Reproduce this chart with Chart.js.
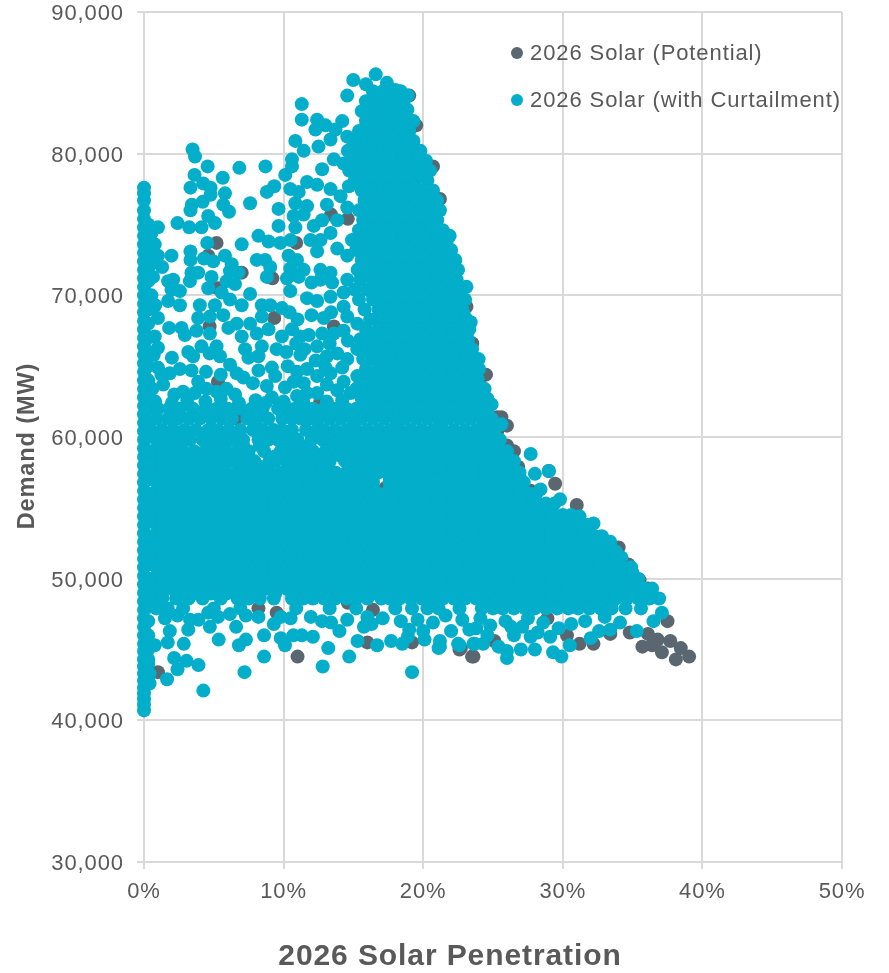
<!DOCTYPE html>
<html><head><meta charset="utf-8">
<style>html,body{margin:0;padding:0;background:#fff}canvas{display:block}</style>
<script src="https://cdn.jsdelivr.net/npm/chart.js@4"></script></head>
<body><canvas id="c" width="889" height="973"></canvas>
<script>
const seriesNames=["2026 Solar (Potential)","2026 Solar (with Curtailment)"];
const xTitle="2026 Solar Penetration", yTitle="Demand (MW)";
// demand values in thousand MW, penetration in %
const zeroColumnDemand=[40.7,41.1,41.5,41.9,42.3,42.8,43.3,43.8,44.3,44.9,45.4,46,46.6,47.2,47.8,48.4,49,49.6,50.2,50.8,51.4,52,52.6,53.2,53.8,54.4,55,55.6,56.2,56.8,57.4,58,58.6,59.2,59.8,60.4,61,61.6,62.2,62.8,63.4,64,64.6,65.2,65.8,66.4,67,67.6,68.2,68.8,69.4,70,70.6,71.2,71.8,72.4,73,73.6,74.2,74.8,75.4,76,76.7,77.2,77.6];
const nearZeroDemand=[43,44,45,46,47,48,49,50,51,52,53,54,55,56,57,58,59,60,61,62,63,64,65,66,67,68,69,70,71,72,73,74,75];
const curtailedSparse=[[3.48,80.3],[3.65,79.8],[4.56,79.1],[6.83,79],[8.7,79.1],[3.62,78.5],[5.64,78.3],[3.33,77.6],[4.24,77.9],[4.77,77.6],[5.8,77.2],[9.33,77.7],[8.8,77.3],[7.6,76.5],[9.64,76.1],[3.43,76.4],[3.33,76],[4.2,76.6],[4.77,77.1],[5.68,76.4],[6.09,75.9],[2.4,75.1],[3.24,74.8],[4.12,74.8],[4.6,75.6],[5.08,75.1],[9.64,74.9],[1,74.8],[.53,74.4],[4.53,73.7],[7,73.6],[8.2,74.2],[8.92,73.8],[9.76,73.7],[10.5,73.9],[1,72.8],[1.97,72.8],[.77,73.6],[3.33,73.1],[3.33,72.5],[4.3,72.6],[4.96,72.4],[5.8,72.8],[6.28,72.2],[8.08,72.5],[8.68,72.5],[9.04,72],[8.8,71.3],[6.16,71.7],[6.76,71.6],[3.4,71.6],[3.88,71.6],[4.84,71.3],[5.92,71],[6.52,70.8],[2.09,71.1],[1.73,71],[.65,71.3],[2.57,70.3],[1.97,70.4],[3.29,71],[4.6,70.5],[5.56,70.2],[1.73,69.6],[2.57,69.3],[.53,70],[4,69.3],[5.08,69.3],[6.16,69.7],[7.6,70.1],[7,69.3],[8.44,69.3],[9.04,69.3],[9.88,69.1],[10.43,68.8],[1,68.4],[1.8,67.7],[2.69,67.7],[3.88,68.4],[4.72,68.5],[5.68,68.6],[6.64,68],[7.6,68],[8.44,68.5],[2.93,67.2],[3.76,67.5],[4.72,67.3],[6.04,67.7],[7,67.1],[8.08,67.3],[8.92,67.6],[.77,67.1],[1,66.3],[4.12,66.4],[5.2,66.4],[3.17,66],[7.24,66.2],[8.44,66.4],[9.88,67.1],[9.5,66.2],[10.2,66],[11.2,65.8],[11.8,67.2],[11.2,67.1],[7.48,65.6],[8.2,65.7],[3.52,65.7],[5.44,65.7],[6.16,65.1],[4.44,64.6],[1,64.9],[2.57,64.8],[1.85,64.5],[1.25,64.4],[6.64,64.5],[7.12,64.2],[9.16,64.9],[9.4,64.3],[7.8,63.8],[8.8,63.6],[10.1,63.5],[3.88,63.9],[5.2,63.2],[4.48,63.4],[2.17,63],[2.8,63.2],[3.64,63.1],[5.92,63.4],[6.52,63],[1.37,63.7],[9.16,62.8],[10.84,80.9],[11.44,80.2],[10.6,79.6],[10.12,78.5],[10.6,79.1],[12.4,82.4],[13,82],[12.28,81.7],[14.2,82.3],[13.72,81.7],[14.56,84.1],[14.99,85.2],[15.9,84.9],[16.6,85.6],[17.4,85],[18,84.5],[18.9,84.1],[18.87,83.1],[11.3,83.5],[11.3,82.4],[12.5,80.5],[13.36,81],[14.56,81.2],[12.76,78.9],[13.6,79.6],[14.3,79.3],[11.68,78],[12.4,77.8],[13.36,77.5],[10.48,77.5],[11.08,77.3],[14.68,77.7],[14.08,77],[10.84,76.5],[11.68,76.3],[13.1,76.4],[11.44,75.7],[10.72,75.6],[10.84,74.8],[12.16,74.9],[12.76,75.3],[13.84,75.3],[14.56,76.2],[11.92,73.9],[13.36,74.4],[12.64,73.9],[12.4,73.1],[13.84,73.3],[14.56,72.8],[10.36,72.8],[10.96,72.5],[11.44,71.8],[10.48,71.9],[12.64,71.8],[13.36,71.6],[10.24,71.2],[11.08,71.3],[12.64,71.1],[12,70.9],[13.48,70.9],[10.48,70.3],[14.56,71.1],[11.68,69.8],[12.4,69.6],[13.36,69.9],[14.3,70.2],[14.3,69.2],[14.56,68.5],[12.88,68.4],[13.6,67.3],[12.76,67.3],[14.3,67.5],[15.28,68],[12.4,66.4],[13.1,65.7],[13.84,65.9],[14.56,65.5],[15.28,66.2],[11.68,64.8],[10.96,64.6],[12.4,64.3],[13.36,64.5],[14.3,63.9],[15.28,64.3],[10.72,63.9],[11.44,63.8],[13.1,63.7],[13.84,63.3],[12.4,63.1],[14.8,63.1],[10.96,62.9],[11.68,63.1],[4.25,42.1],[7.2,43.4],[19.2,43.4],[12.8,43.8],[14.7,44.5],[8.6,44.5],[13.2,45.1],[1.65,42.9],[2.4,43.6],[3.9,43.9],[3.05,44.2],[2.16,44.4],[2.85,45.4],[5.35,45.7],[6.8,45.3],[7.3,45.7],[8.6,46],[9.8,45.8],[10.1,45.3],[12.1,45.9],[15.3,45.6],[16.7,45.3],[17.7,45.6],[18.5,45.4],[18.9,45.9],[20.1,45.7],[21.2,45.2],[22.6,45.3],[23.7,45.4],[1.7,45.5],[.77,45.3],[1.85,46.3],[.3,44.3],[.4,43.3],[.4,42.6],[3.17,46.4],[4.72,46.6],[6.16,47.5],[6.6,46.6],[8.2,47.3],[9.3,46.8],[9.8,47.3],[10.7,46],[11.3,46],[11.95,47.3],[14,46.3],[14.56,47.1],[15.75,46.6],[22,46.3],[3.3,47.1],[3.9,47.1],[4.6,47.6],[23.3,46.4],[12.75,47],[13.4,46.9],[26,44.4],[26,44.9],[29.9,44.5],[29.3,44.8],[28,45],[27,45],[30.5,45.3],[28.2,46.2],[32,45.8],[32.6,46.3],[33.4,46.4],[34.1,46.9],[35.3,46.3],[36.5,47],[37.1,47.6],[21.1,45.1],[22.5,45.4],[23.6,45.4],[24.3,45.4],[25.4,45.2],[21.2,45.6],[27.7,58.8],[28,57.4],[29,57.6],[31.2,54.4],[29.8,55.6],[32.2,53.9],[33.4,52.6],[28.4,56.3],[23.97,65.5],[25.6,60.9],[24.9,62.3],[24.7,61.2],[23.4,68.1],[22.9,68.7],[25,59.8],[27,56.8],[23.1,70.6],[21.9,74.2],[17.1,47.2],[18.4,47],[19.6,47.1],[20.7,46.9],[24.8,46.7],[25.9,47],[27.1,46.6],[28.6,46.9],[29.7,46.5],[30.6,46.8],[31.6,47],[33,47.3],[24.6,46],[26.5,46],[27.7,45.9],[29.1,45.9],[22.8,47.1],[21.6,47.4]];
const curtailedFill=[[11,68.3],[12,68.6],[13.4,68.8],[10.6,67.6],[10.3,65],[11.5,66.2],[12.3,65.4],[13.3,66.6],[14.6,66.8],[13,64.9],[14.2,64.9],[10.9,66.6],[2,62.4],[3.1,62.6],[4.4,62.5],[5.5,62.7],[6.8,62.4],[8,62.6],[8.7,62.4],[10,62.5],[11.4,62.5],[13.1,62.5],[14.2,62.6],[.7,65.8],[.6,63.4],[.8,62.5],[2,65.6],[.8,69.3],[.5,72.2],[1.3,72],[4.7,65.9],[3.4,64.7],[5.5,64.4],[8.2,64.7],[1.5,47.2],[2.4,47.4],[5.3,47.3],[7.3,47.4],[10.5,47.2],[16,47.3],[16.3,46.8],[19,46.4],[20,46.3],[23.8,46.5],[24.1,47.2],[26.3,46.6],[27.5,47.2]];
const curtailedTower=[
[84.4,[16.4,17.1,17.8,18.4]],
[83.7,[15.9,16.6,17.3,18,18.6]],
[83,[15.6,16.3,17,17.7,18.4]],
[82.3,[15.9,16.6,17.3,18,18.8,19.3]],
[81.6,[15.4,16.2,16.9,17.6,18.3,19]],
[80.9,[15,15.8,16.5,17.2,17.9,18.6,19.3]],
[80.2,[14.6,15.4,16.1,16.9,17.6,18.3,19,19.8]],
[79.5,[15,15.8,16.5,17.2,17.9,18.6,19.4,20.2]],
[78.8,[14.7,15.4,16.2,16.9,17.6,18.3,19,19.8,20.5]],
[78.1,[15.1,15.8,16.5,17.2,17.9,18.6,19.4,20.3]],
[77.4,[15.6,16.2,16.9,17.6,18.3,19,19.8,20.7]],
[76.7,[15.8,16.5,17.2,17.9,18.6,19.4,20.2,21]],
[76,[15.4,16.2,16.9,17.6,18.3,19,19.8,20.6,21.2]],
[75.3,[15.7,16.5,17.2,17.9,18.6,19.4,20.2,21]],
[74.6,[15.4,16.1,16.8,17.6,18.3,19,19.8,20.6,21.4]],
[73.9,[14.9,15.7,16.5,17.2,17.9,18.6,19.4,20.2,21,21.7]],
[73.2,[15.2,16,16.8,17.5,18.3,19,19.8,20.6,21.4,22]],
[72.5,[15.6,16.4,17.1,17.9,18.6,19.4,20.2,21,21.7,22.3]],
[71.8,[15.3,16,16.8,17.5,18.3,19,19.8,20.6,21.4,22.1,22.5]],
[71.1,[15.5,16.4,17.1,17.9,18.6,19.4,20.2,21,21.7,22.4]],
[70.4,[15.1,16,16.8,17.5,18.3,19,19.8,20.6,21.4,22.1,22.7]],
[69.7,[15.4,16.4,17.1,17.9,18.6,19.4,20.2,21,21.7,22.4,23]],
[69,[15.8,16.8,17.5,18.3,19,19.8,20.6,21.4,22.1,22.8]],
[68.3,[16.2,17.1,17.9,18.6,19.4,20.2,21,21.7,22.4,23.1]],
[67.6,[15.9,16.8,17.5,18.3,19,19.8,20.6,21.4,22.1,22.8,23.3]],
[66.9,[15.5,16.3,17.1,17.9,18.6,19.4,20.2,21,21.7,22.4,23.2]],
[66.2,[16,16.8,17.5,18.3,19,19.8,20.6,21.4,22.1,22.8,23.5]],
[65.5,[15.7,16.4,17.1,17.9,18.6,19.4,20.2,21,21.7,22.4,23.2]],
[64.8,[15.9,16.8,17.5,18.3,19,19.8,20.6,21.4,22.1,22.8,23.6,24]],
[64.1,[15.5,16.4,17.1,17.9,18.6,19.4,20.2,21,21.7,22.4,23.2,23.9]],
[63.4,[15.2,16,16.8,17.5,18.3,19,19.8,20.6,21.4,22.1,22.8,23.6,24.4]],
[62.7,[15.6,16.4,17.1,17.9,18.6,19.4,20.2,21,21.7,22.4,23.2,24,24.6]]
];
const curtailedBlock=[
[62,[1,1.8,2.6,3.5,4.4,5.2,6,6.9,7.7,8.5,9.6,10.3,10.8,11.6,12.1,12.9,13.7,14.5,15.2,16,16.8,17.6,18.3,19.1,19.9,20.7,21.4,22.2,23,23.8,24.6]],
[61.3,[.9,1.7,2.4,3.2,4,4.8,5.6,6.3,7.4,8.1,8.9,9.9,10.6,11.2,11.9,12.5,13.3,14.1,14.9,15.6,16.4,17.2,18,18.7,19.5,20.3,21.1,21.8,22.6,23.4,24.2,24.9]],
[60.5,[.5,1.3,2.1,2.9,3.7,4.6,5.3,6.1,6.9,7.8,8.5,9.3,9.9,10.6,11.6,12.4,12.9,13.7,14.5,15.2,16,16.8,17.6,18.3,19.1,19.9,20.7,21.4,22.2,23,23.8,24.5,25.1]],
[59.8,[.9,1.7,2.5,3.3,4.2,4.9,5.6,6.3,7.1,8.2,8.9,9.6,10.2,11,12,12.8,13.3,14.1,14.9,15.6,16.4,17.2,18,18.7,19.5,20.3,21.1,21.8,22.6,23.4,24.2,24.9,25.5]],
[59,[.5,1.3,2.1,2.8,3.6,4.4,5.2,5.9,6.7,7.5,8.6,9.8,10.6,11.4,12.1,13,13.7,14.5,15.2,16,16.8,17.6,18.3,19.1,19.9,20.7,21.4,22.2,23,23.8,24.5,25.3,26]],
[58.3,[.9,1.7,2.5,3.2,4,4.8,5.6,6.3,7.2,7.9,9,9.4,10.2,11,11.8,12.5,13.3,14.4,14.9,15.6,16.4,17.2,18,18.7,19.5,20.3,21.1,21.8,22.6,23.4,24.2,24.9,25.7,26.5]],
[57.5,[.5,1.3,2.1,2.8,3.6,4.4,5.2,5.9,6.7,7.5,8.3,9,9.8,10.6,11.4,12.1,12.9,13.7,14.5,15.2,16,16.8,17.6,18.3,19.1,19.9,20.7,21.4,22.2,23,23.8,24.5,25.3,26.1,26.9]],
[56.8,[.9,1.7,2.5,3.2,4,4.8,5.6,6.3,7.1,7.9,8.7,9.4,10.2,11,11.8,12.5,13.3,14.1,14.9,15.6,16.4,17.6,18,18.7,19.5,20.3,21.1,21.8,22.6,23.4,24.2,24.9,25.7,26.5,27.2]],
[56,[.5,1.3,2.1,2.8,3.6,4.4,5.2,5.9,6.7,7.5,8.3,9,9.8,10.6,11.4,12.1,12.9,13.7,14.5,15.2,16,16.8,17.6,18.3,19.1,19.9,20.7,21.4,22.2,23,23.8,24.5,25.3,26.1,26.9,27.6,28.1]],
[55.3,[.9,1.7,2.5,3.2,4,4.8,5.6,6.3,7.1,7.9,8.7,9.4,10.2,11,11.8,12.5,13.3,14.1,14.9,15.6,16.4,17.2,18,18.7,19.5,20.3,21.1,21.8,22.6,23.4,24.2,24.9,25.7,26.5,27.3,28,28.8,29.4]],
[54.5,[.5,1.3,2.1,2.8,3.6,4.4,5.2,5.9,6.7,7.5,8.3,9,9.8,10.6,11.4,12.1,12.9,13.7,14.5,15.2,16,16.8,17.6,18.3,19.1,19.9,20.7,21.4,22.2,23,23.8,24.5,25.3,26.1,26.9,27.6,28.4,29.2,30,30.6]],
[53.8,[.9,1.7,2.5,3.2,4,4.8,5.6,6.3,7.1,7.9,8.7,9.4,10.2,11,11.8,12.5,13.3,14.1,14.9,15.6,16.4,17.2,18,18.7,19.5,20.3,21.1,21.8,22.6,23.4,24.2,24.9,25.7,26.5,27.3,28,28.8,29.6,30.4,31.1,31.8]],
[53,[.5,1.3,2.1,2.8,3.6,4.4,5.2,5.9,6.7,7.5,8.3,9,9.8,10.6,11.4,12.1,12.9,13.7,14.5,15.2,16,16.8,17.6,18.3,19.1,19.9,20.7,21.4,22.2,23,23.8,24.5,25.3,26.1,26.9,27.6,28.4,29.2,30,30.7,31.5,32.3,32.8]],
[52.3,[.9,1.7,2.5,3.2,4,4.8,5.6,6.3,7.1,7.9,8.7,9.4,10.2,11,11.8,12.5,13.3,14.1,14.9,15.6,16.4,17.2,18,18.7,19.5,20.3,21.1,21.8,22.6,23.4,24.2,24.9,25.7,26.5,27.3,28,28.8,29.6,30.4,31.1,31.9,32.7,33.4]],
[51.5,[.5,1.3,2.1,2.8,3.6,4.4,5.2,5.9,6.7,7.5,8.3,9,9.8,10.6,11.4,12.1,12.9,13.7,14.5,15.2,16,16.8,17.6,18.3,19.1,19.9,20.7,21.4,22.2,23,23.8,24.5,25.3,26.1,26.9,27.6,28.4,29.2,30,30.7,31.5,32.3,33.1,33.8,34.2]],
[50.8,[.9,1.7,2.5,3.2,4,4.8,5.6,6.3,7.1,7.9,8.7,9.4,10.2,11,11.8,12.5,13.3,14.1,14.9,15.6,16.4,17.2,18,18.7,19.5,20.3,21.1,21.8,22.6,23.4,24.2,24.9,25.7,26.5,27.3,28,28.8,29.6,30.4,31.1,31.9,32.7,33.5,34.2,34.9]],
[50,[.5,1.3,2.1,2.8,3.6,4.4,5.2,5.9,6.7,7.5,8.3,9,9.8,10.6,11.4,12.1,12.9,13.7,14.5,15.2,16,16.8,17.6,18.3,19.1,19.9,20.7,21.4,22.2,23,23.8,24.5,25.3,26.1,26.9,27.6,28.4,29.2,30,30.7,31.5,32.3,33.1,33.8,34.6,35.4]],
[49.3,[.9,1.7,2.5,3.2,4,4.8,5.6,6.3,7.1,7.9,8.7,9.4,10.2,11,11.8,12.5,13.3,14.1,14.9,15.6,16.4,17.2,18,18.7,19.5,20.3,21.1,21.8,22.6,23.4,24.2,24.9,25.7,26.5,27.3,28,28.8,29.6,30.4,31.1,31.9,32.7,33.5,34.2,35,35.8,36.4]],
[48.6,[.5,1.3,2.3,3.2,4.2,5.5,6.7,7.5,8.3,9.3,10.6,11.4,12.1,12.9,13.7,14.5,15.2,16,17,17.6,18.3,19.1,19.9,20.7,21.4,22.2,23,23.8,24.5,25.3,26.1,26.9,27.6,28.4,29.2,30,30.7,31.5,32.3,33.1,33.8,34.6,35.4,36.2,36.9]],
[47.9,[.9,1.7,2.8,5,6.9,10.9,13.3,15.2,18,19.2,20.3,21.1,22.6,24.2,25,25.7,26.5,27.3,28,28.8,29.6,30.4,31.1,31.9,32.7,33.5,34.5,35.6]]
];
// extra marks inside the solid mass, where overlapping dots leave almost no white
const curtailedInterior=[
[48.95,[1.3,2.5,3.6,4.8,5.9,7.1,8.3,9.4,10.6,11.8,12.9,14.1,15.2,16.4,17.6,18.7,19.9,21.1,22.2,23.4,24.5,25.7,26.9,28,29.2,30.4,31.5,32.7,33.8,35,36.2]],
[49.65,[1.3,2.5,3.6,4.8,5.9,7.1,8.3,9.4,10.6,11.8,12.9,14.1,15.2,16.4,17.6,18.7,19.9,21.1,22.2,23.4,24.5,25.7,26.9,28,29.2,30.4,31.5,32.7,33.8,35]],
[50.4,[1.3,2.5,3.6,4.8,5.9,7.1,8.3,9.4,10.6,11.8,12.9,14.1,15.2,16.4,17.6,18.7,19.9,21.1,22.2,23.4,24.5,25.7,26.9,28,29.2,30.4,31.5,32.7,33.8,35]],
[51.15,[1.3,2.5,3.6,4.8,5.9,7.1,8.3,9.4,10.6,11.8,12.9,14.1,15.2,16.4,17.6,18.7,19.9,21.1,22.2,23.4,24.5,25.7,26.9,28,29.2,30.4,31.5,32.7,33.8]],
[51.9,[1.3,2.5,3.6,4.8,5.9,7.1,8.3,9.4,10.6,11.8,12.9,14.1,15.2,16.4,17.6,18.7,19.9,21.1,22.2,23.4,24.5,25.7,26.9,28,29.2,30.4,31.5,32.7,33.8]],
[52.65,[1.3,2.5,3.6,4.8,5.9,7.1,8.3,9.4,10.6,11.8,12.9,14.1,15.2,16.4,17.6,18.7,19.9,21.1,22.2,23.4,24.5,25.7,26.9,28,29.2,30.4,31.5,32.7]],
[53.4,[1.3,2.5,3.6,4.8,5.9,7.1,8.3,9.4,10.6,11.8,12.9,14.1,15.2,16.4,17.6,18.7,19.9,21.1,22.2,23.4,24.5,25.7,26.9,28,29.2,30.4,31.5]],
[54.15,[1.3,2.5,3.6,4.8,5.9,7.1,8.3,9.4,10.6,11.8,12.9,14.1,15.2,16.4,17.6,18.7,19.9,21.1,22.2,23.4,24.5,25.7,26.9,28,29.2,30.4]],
[54.9,[1.3,2.5,3.6,4.8,5.9,7.1,8.3,9.4,10.6,11.8,12.9,14.1,15.2,16.4,17.6,18.7,19.9,21.1,22.2,23.4,24.5,25.7,26.9,28,29.2]],
[55.65,[1.3,2.5,3.6,4.8,5.9,7.1,8.3,9.4,10.6,11.8,12.9,14.1,15.2,16.4,17.6,18.7,19.9,21.1,22.2,23.4,24.5,25.7,26.9,28]],
[56.4,[1.3,2.5,3.6,4.8,5.9,7.1,8.3,9.4,10.6,12.9,14.1,15.2,16.4,17.6,18.7,19.9,21.1,22.2,23.4,24.5,25.7,26.9]],
[57.15,[1.3,2.5,3.6,4.8,5.9,8.3,9.4,10.6,11.8,12.9,14.1,15.2,16.4,17.6,18.7,19.9,21.1,22.2,23.4,24.5,25.7,26.9]],
[57.9,[1.3,2.5,3.6,4.8,7.1,8.3,10.6,11.8,12.9,15.2,16.4,17.6,18.7,19.9,21.1,22.2,23.4,24.5,25.7]],
[58.65,[1.3,2.5,3.6,5.9,7.1,9.4,10.6,12.9,14.1,15.2,16.4,17.6,18.7,19.9,21.1,22.2,23.4,24.5,25.7]],
[59.4,[1.3,2.5,4.8,7.1,8.3,10.6,11.8,14.1,15.2,16.4,17.6,18.7,19.9,21.1,22.2,23.4,24.5]],
[63.05,[16.4,17.6,18.7,19.9,21.1,22.2,23.4]],
[64.45,[16.4,17.6,18.7,19.9,21.1,22.2,23.4]],
[65.85,[16.4,17.6,18.7,19.9,21.1,22.2]],
[67.25,[16.4,17.6,18.7,19.9,21.1,22.2]],
[68.65,[17.6,18.7,19.9,21.1,22.2]],
[70.05,[16.4,17.6,18.7,19.9,21.1,22.2]],
[71.45,[16.4,17.6,18.7,19.9,21.1]],
[72.85,[16.4,17.6,18.7,19.9,21.1]],
[74.25,[16.4,17.6,18.7,19.9,21.1]],
[75.65,[16.4,17.6,18.7,19.9]],
[77.05,[16.4,17.6,18.7,19.9]],
[78.45,[16.4,17.6,18.7,19.9]],
[79.85,[16.4,17.6,18.7]],
[81.25,[16.4,17.6,18.7]]
];
const potentialPoints=[[39.05,44.5],[38.1,44.3],[38.45,45.1],[37.7,45.6],[37.1,44.8],[36.8,45.7],[36.1,46.1],[35.7,45.2],[36.4,45.3],[37.5,47],[34.8,46.2],[33.4,46.1],[32.2,45.4],[31.2,45.4],[23.5,44.5],[22.6,45],[29.45,56.7],[31,55.2],[31.2,53.7],[34,52.2],[34.7,51],[35.5,49.9],[36.1,49.3],[29,57.6],[26.8,57.9],[26.5,59],[26,59.4],[25.6,61.4],[26,60.8],[25.3,61.4],[24.5,64.4],[24,64.1],[23.5,66.6],[23,69.2],[25.3,60.4],[27.7,56.2],[26.8,54.9],[28.9,47.2],[19.5,82],[19,84.1],[20.7,79.1],[21.2,76.8],[21.6,73],[23.1,69.2],[23.5,66.6],[23.9,64.2],[5.3,63.9],[9.33,68.4],[5.2,73.7],[4.6,72.8],[13.4,75.7],[14.6,75.4],[10.9,73.7],[13.6,67.8],[16.8,68.2],[4.7,67.8],[5.3,70.5],[7,71.6],[9.2,71.2],[11,44.5],[16,45.5],[19.2,45.5],[22.7,45.1],[23.6,44.5],[1,43.4],[6.6,61.3],[11.2,56.5],[17.3,56.4],[9.5,47.6],[8.2,47.9],[14.6,48.3],[16.4,47.8],[12.6,62.4],[10.8,61.7],[11.3,59.3],[14,59.4],[6.8,58.2],[22.6,57.7],[30.3,46],[25.1,45.6]];

const toPoints=(pairs)=>pairs.map(p=>({x:p[0],y:p[1]*1000}));
const rowsToPoints=(rows)=>rows.flatMap(r=>r[1].map(x=>({x,y:r[0]*1000})));
const curtailedData=[
 ...zeroColumnDemand.map(d=>({x:0,y:d*1000})),
 ...nearZeroDemand.map(d=>({x:.3,y:d*1000})),
 ...toPoints(curtailedSparse),...toPoints(curtailedFill),...rowsToPoints(curtailedTower),...rowsToPoints(curtailedBlock),...rowsToPoints(curtailedInterior)];

const GRID="#d9d9d9",TEXT="#595959",TEAL="#02AEC9",GRAY="#5B6770",FONT='"Liberation Sans"';
const textPlugin={id:'cornerLegend',
 beforeDraw(chart){chart.ctx.letterSpacing='0.9px';},
 afterDatasetsDraw(chart){
  const {ctx,data}=chart;ctx.save();
  ctx.font='22px '+FONT;ctx.letterSpacing='0.9px';ctx.textBaseline='middle';ctx.textAlign='left';
  [53,100].forEach((py,i)=>{
    const ds=data.datasets[i];
    ctx.fillStyle=ds.backgroundColor;ctx.beginPath();ctx.arc(517,py,6,0,Math.PI*2);ctx.fill();
    ctx.fillStyle=TEXT;ctx.fillText(ds.label,530,py+1);
  });
  ctx.textAlign='center';ctx.fillStyle=TEXT;
  ctx.font='bold 30px '+FONT;ctx.fillText(xTitle,450,957);
  ctx.translate(28,446);ctx.rotate(-Math.PI/2);
  ctx.font='bold 23.5px '+FONT;ctx.fillText(yTitle,0,0);
  ctx.restore();}};

new Chart(document.getElementById('c'),{type:'scatter',
 data:{datasets:[
  {label:seriesNames[0],data:toPoints(potentialPoints),backgroundColor:GRAY,borderWidth:0,pointRadius:7,order:2,clip:false},
  {label:seriesNames[1],data:curtailedData,backgroundColor:TEAL,borderWidth:0,pointRadius:7,order:1,clip:false}]},
 plugins:[textPlugin],
 options:{responsive:false,animation:false,events:[],
  layout:{padding:{left:0,right:47,top:12,bottom:0}},
  plugins:{legend:{display:false},tooltip:{enabled:false}},
  scales:{
   x:{type:'linear',min:0,max:50,
    afterFit(s){s.height=973-862;s.paddingLeft=0;s.paddingRight=0;},
    ticks:{stepSize:10,maxRotation:0,padding:10,color:TEXT,font:{family:FONT,size:22},callback:v=>v+'%'},
    grid:{color:GRID,lineWidth:2,tickLength:7,tickColor:GRID},border:{color:GRID,width:2}},
   y:{type:'linear',min:30000,max:90000,
    afterFit(s){s.width=144;s.paddingTop=0;s.paddingBottom=0;},
    ticks:{stepSize:10000,padding:13,labelOffset:2,color:TEXT,font:{family:FONT,size:22},callback:v=>v.toLocaleString('en-US')},
    grid:{color:GRID,lineWidth:2,tickLength:7,tickColor:GRID},border:{color:GRID,width:2}}
  }}});
</script></body></html>
